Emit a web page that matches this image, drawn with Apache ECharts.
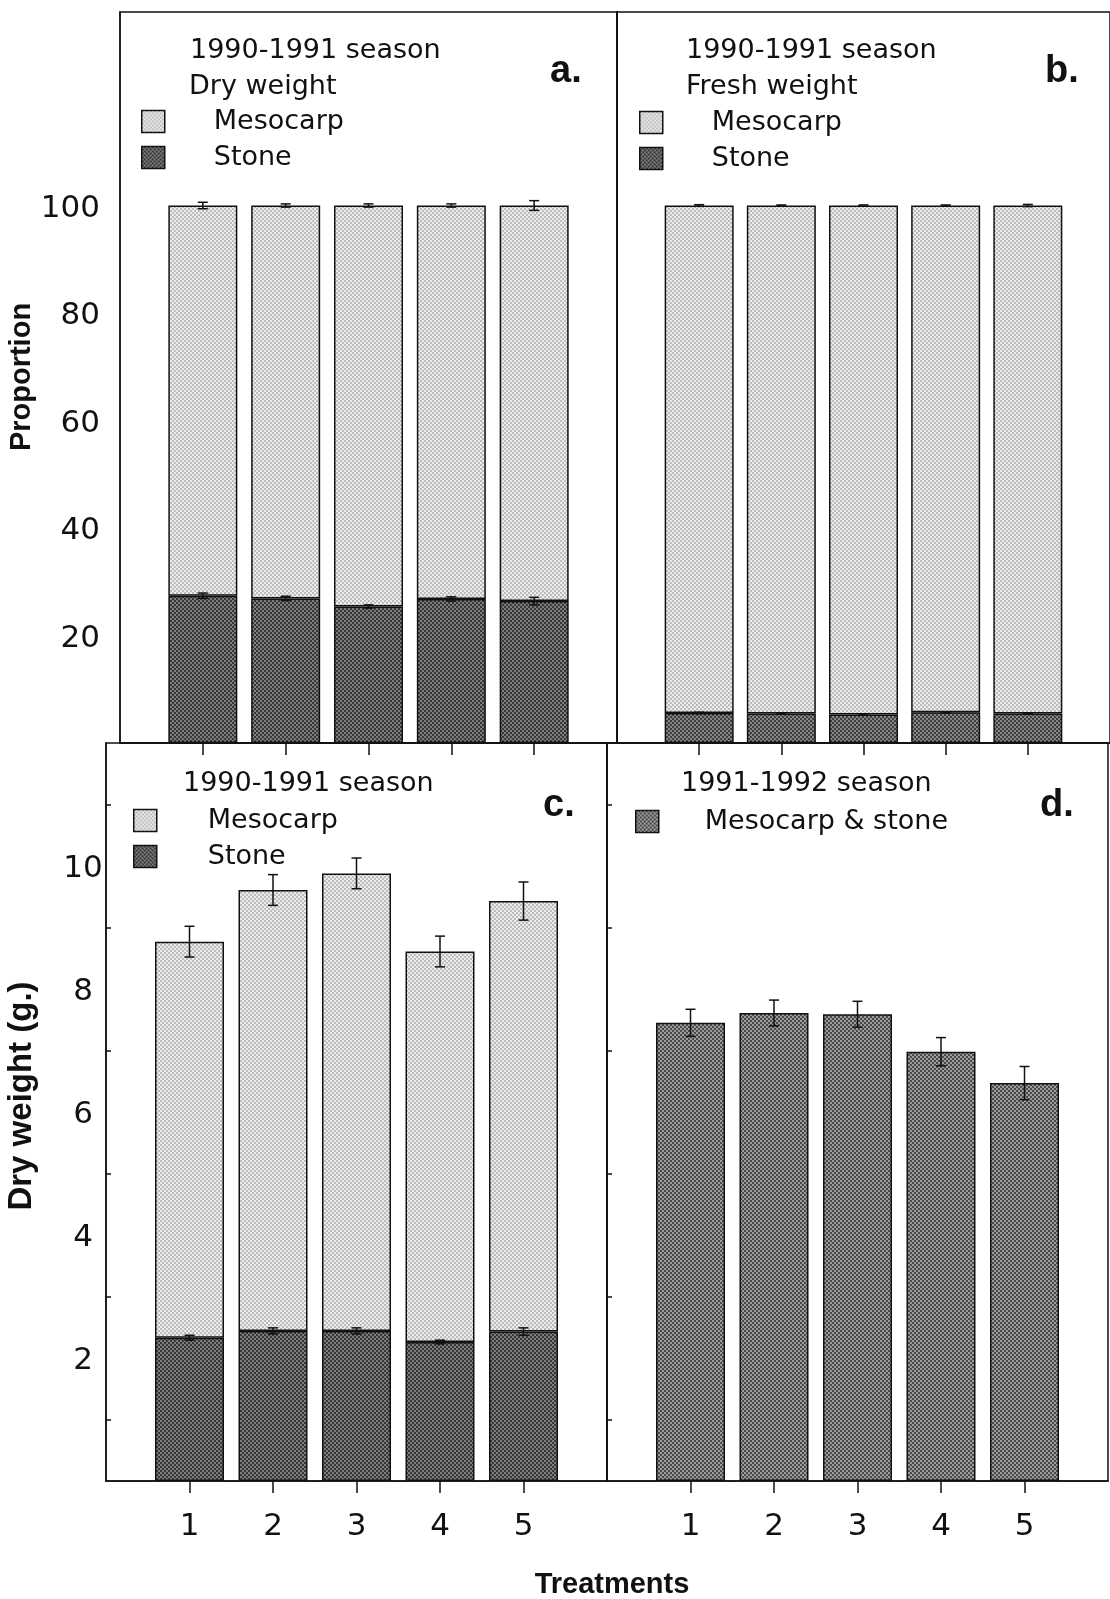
<!DOCTYPE html>
<html>
<head>
<meta charset="utf-8">
<title>Fruit composition by treatment</title>
<script src="https://cdn.jsdelivr.net/npm/echarts@6/dist/echarts.min.js"></script>
<style>
  html, body { margin: 0; padding: 0; background: #fff; }
  #main { width: 1110px; height: 1599px; }
</style>
</head>
<body>
<div id="main"></div>
<script>
// categories + tick labels
var treatments = ['1', '2', '3', '4', '5'];
var axisSlots = ['0', '1', '2', '3', '4', '5', '6'];
var pctTicks = [20, 40, 60, 80, 100];
var dryTicks = [2, 4, 6, 8, 10];

// a. 1990-1991 dry weight, proportion
var stoneDryPct = [27.4, 26.9, 25.4, 26.8, 26.4];
var stoneDryPctErr = [0.5, 0.4, 0.3, 0.4, 0.7];
var mesoDryPct = [72.6, 73.1, 74.6, 73.2, 73.6];
var mesoDryPctErr = [0.6, 0.3, 0.3, 0.3, 0.9];

// b. 1990-1991 fresh weight, proportion
var stoneFreshPct = [5.6, 5.5, 5.3, 5.7, 5.5];
var stoneFreshPctErr = [0.1, 0.1, 0.1, 0.1, 0.1];
var mesoFreshPct = [94.4, 94.5, 94.7, 94.3, 94.5];
var mesoFreshPctErr = [0.15, 0.1, 0.1, 0.1, 0.2];

// c. 1990-1991 dry weight (g.)
var stoneDry = [2.33, 2.44, 2.44, 2.26, 2.43];
var stoneDryErr = [0.04, 0.05, 0.05, 0.03, 0.06];
var mesoDry = [6.44, 7.17, 7.44, 6.35, 7.00];
var mesoDryErr = [0.25, 0.25, 0.25, 0.25, 0.31];

// d. 1991-1992 dry weight (g.), mesocarp & stone
var wholeDry = [7.45, 7.61, 7.59, 6.98, 6.47];
var wholeDryErr = [0.22, 0.21, 0.21, 0.23, 0.27];

var INK = '#111';
var FONT = 'DejaVu Sans';
var BOLD = 'Liberation Sans';

function halftone(c1, c2) {
    var cv = document.createElement('canvas');
    cv.width = 4;
    cv.height = 4;
    var ctx = cv.getContext('2d');
    ctx.fillStyle = c1;
    ctx.fillRect(0, 0, 4, 4);
    ctx.fillStyle = c2;
    ctx.fillRect(0, 0, 2, 2);
    ctx.fillRect(2, 2, 2, 2);
    return { image: cv, repeat: 'repeat' };
}
var mesoFill = halftone('#ececec', '#bcbcbc');
var stoneFill = halftone('#363636', '#7e7e7e');
var stoneFillB = halftone('#3e3e3e', '#878787');
var wholeFill = halftone('#4a4a4a', '#9c9c9c');

function pairs(vals) {
    return treatments.map(function (t, i) { return [t, vals[i]]; });
}
// error bar data sits at top of the stack
function errData(base, vals, err) {
    return treatments.map(function (t, i) {
        var top = (base ? base[i] : 0) + vals[i];
        return [t, top - err[i], top + err[i]];
    });
}

function errItem(params, api) {
    var x = api.value(0);
    var lo = api.coord([x, api.value(1)]);
    var hi = api.coord([x, api.value(2)]);
    var w = 5;
    var st = { stroke: INK, lineWidth: 1.5 };
    return {
        type: 'group',
        children: [
            { type: 'line', shape: { x1: lo[0], y1: lo[1], x2: hi[0], y2: hi[1] }, style: st },
            { type: 'line', shape: { x1: hi[0] - w, y1: hi[1], x2: hi[0] + w, y2: hi[1] }, style: st },
            { type: 'line', shape: { x1: lo[0] - w, y1: lo[1], x2: lo[0] + w, y2: lo[1] }, style: st }
        ]
    };
}

function barSeries(name, grid, yIdx, stack, vals, fill) {
    return {
        name: name,
        type: 'bar',
        xAxisIndex: grid,
        yAxisIndex: yIdx,
        stack: stack,
        barWidth: 69,
        data: pairs(vals),
        itemStyle: { color: fill, borderColor: INK, borderWidth: 1.5 },
        emphasis: { disabled: true }
    };
}

function errSeries(grid, yIdx, data) {
    return {
        type: 'custom',
        xAxisIndex: grid,
        yAxisIndex: yIdx,
        z: 5,
        silent: true,
        encode: { x: 0, y: [1, 2] },
        renderItem: errItem,
        data: data
    };
}

function xAxis(grid, labels) {
    var inner = function (idx) { return idx > 0 && idx < axisSlots.length - 1; };
    return {
        type: 'category',
        gridIndex: grid,
        data: axisSlots,
        boundaryGap: false,
        axisLine: { lineStyle: { color: INK, width: 1.5 } },
        axisTick: { inside: false, length: 12, interval: inner, lineStyle: { color: INK, width: 1.5 } },
        axisLabel: {
            show: labels, interval: inner, margin: 30,
            fontSize: 31, fontFamily: FONT, color: INK
        },
        splitLine: { show: false }
    };
}

function yAxis(grid, max, step, ticks, labels, margin, len, minor, align) {
    return {
        type: 'value',
        gridIndex: grid,
        position: 'left',
        min: 0,
        max: max,
        interval: step,
        axisLine: { show: !minor, lineStyle: { color: INK, width: 1.5 } },
        axisTick: { inside: true, length: len, lineStyle: { color: INK, width: 1.5 } },
        minorTick: { show: !!ticks && !minor && max % step === 0, splitNumber: 2, length: 5, lineStyle: { color: INK, width: 1.5 } },
        axisLabel: {
            show: labels, margin: margin, color: INK,
            align: align || 'right',
            rich: { v: { fontSize: 31, fontFamily: FONT, color: INK, padding: [6, 0, 0, 0] } },
            formatter: function (v) { return ticks && ticks.indexOf(v) >= 0 ? '{v|' + v + '}' : ''; }
        },
        splitLine: { show: false }
    };
}

function legend(names, left, top, pad) {
    return {
        data: names,
        orient: 'vertical',
        left: left,
        top: top,
        padding: 0,
        itemWidth: 23,
        itemHeight: 22,
        itemGap: 9,
        selectedMode: false,
        icon: 'rect',
        itemStyle: { borderColor: INK, borderWidth: 1.5 },
        textStyle: { fontSize: 27, fontFamily: FONT, color: INK, padding: [0, 0, 0, pad] }
    };
}

function label(text, x, y, size, bold, rot) {
    return {
        type: 'text',
        x: x,
        y: y,
        rotation: rot || 0,
        silent: true,
        style: {
            text: text,
            fill: INK,
            font: (bold ? 'bold ' : '') + size + 'px "' + (bold ? BOLD : FONT) + '"',
            align: rot ? 'center' : 'left',
            verticalAlign: 'middle'
        }
    };
}

var gridStyle = { show: true, borderColor: INK, borderWidth: 1.5, backgroundColor: 'transparent' };

var option = {
    animation: false,
    backgroundColor: '#fff',
    grid: [
        Object.assign({ left: 120, top: 12, width: 497, height: 731 }, gridStyle),
        Object.assign({ left: 617, top: 12, width: 496, height: 731 }, gridStyle),
        Object.assign({ left: 106, top: 743, width: 501, height: 738 }, gridStyle),
        Object.assign({ left: 607, top: 743, width: 501, height: 738 }, gridStyle)
    ],
    xAxis: [xAxis(0, false), xAxis(1, false), xAxis(2, true), xAxis(3, true)],
    yAxis: [
        yAxis(0, 136, 20, pctTicks, true, 20, 10, false),
        yAxis(0, 136, 10, null, false, 0, 5, true),
        yAxis(1, 136, 20, null, false, 0, 10, false),
        yAxis(1, 136, 10, null, false, 0, 5, true),
        yAxis(2, 12, 2, dryTicks, true, 23, 10, false, 'center'),
        yAxis(3, 12, 2, [], false, 0, 10, false)
    ],
    legend: [
        legend(['Mesocarp', 'Stone'], 141, 108, 44),
        legend(['Mesocarp', 'Stone'], 639, 109, 44),
        legend(['Mesocarp', 'Stone'], 133, 807, 46),
        legend(['Mesocarp & stone'], 635, 808, 41)
    ],
    series: [
        barSeries('Stone', 0, 0, 'a', stoneDryPct, stoneFill),
        barSeries('Mesocarp', 0, 0, 'a', mesoDryPct, mesoFill),
        errSeries(0, 0, errData(null, stoneDryPct, stoneDryPctErr)),
        errSeries(0, 0, errData(stoneDryPct, mesoDryPct, mesoDryPctErr)),

        barSeries('Stone', 1, 2, 'b', stoneFreshPct, stoneFillB),
        barSeries('Mesocarp', 1, 2, 'b', mesoFreshPct, mesoFill),
        errSeries(1, 2, errData(null, stoneFreshPct, stoneFreshPctErr)),
        errSeries(1, 2, errData(stoneFreshPct, mesoFreshPct, mesoFreshPctErr)),

        barSeries('Stone', 2, 4, 'c', stoneDry, stoneFill),
        barSeries('Mesocarp', 2, 4, 'c', mesoDry, mesoFill),
        errSeries(2, 4, errData(null, stoneDry, stoneDryErr)),
        errSeries(2, 4, errData(stoneDry, mesoDry, mesoDryErr)),

        barSeries('Mesocarp & stone', 3, 5, null, wholeDry, wholeFill),
        errSeries(3, 5, errData(null, wholeDry, wholeDryErr))
    ],
    graphic: [
        label('1990-1991 season', 190, 51, 27),
        label('Dry weight', 189, 87, 27),
        label('a.', 550, 72, 38, true),
        label('1990-1991 season', 686, 51, 27),
        label('Fresh weight', 686, 87, 27),
        label('b.', 1045, 72, 38, true),
        label('1990-1991 season', 183, 784, 27),
        label('c.', 543, 806, 38, true),
        label('1991-1992 season', 681, 784, 27),
        label('d.', 1040, 806, 38, true),
        label('Proportion', 22, 377, 29, true, Math.PI / 2),
        label('Dry weight (g.)', 22, 1096, 33, true, Math.PI / 2),
        label('Treatments', 612, 1585, 29, true, 0.0001)
    ]
};

var chart = echarts.init(document.getElementById('main'));
chart.setOption(option);
</script>
</body>
</html>
